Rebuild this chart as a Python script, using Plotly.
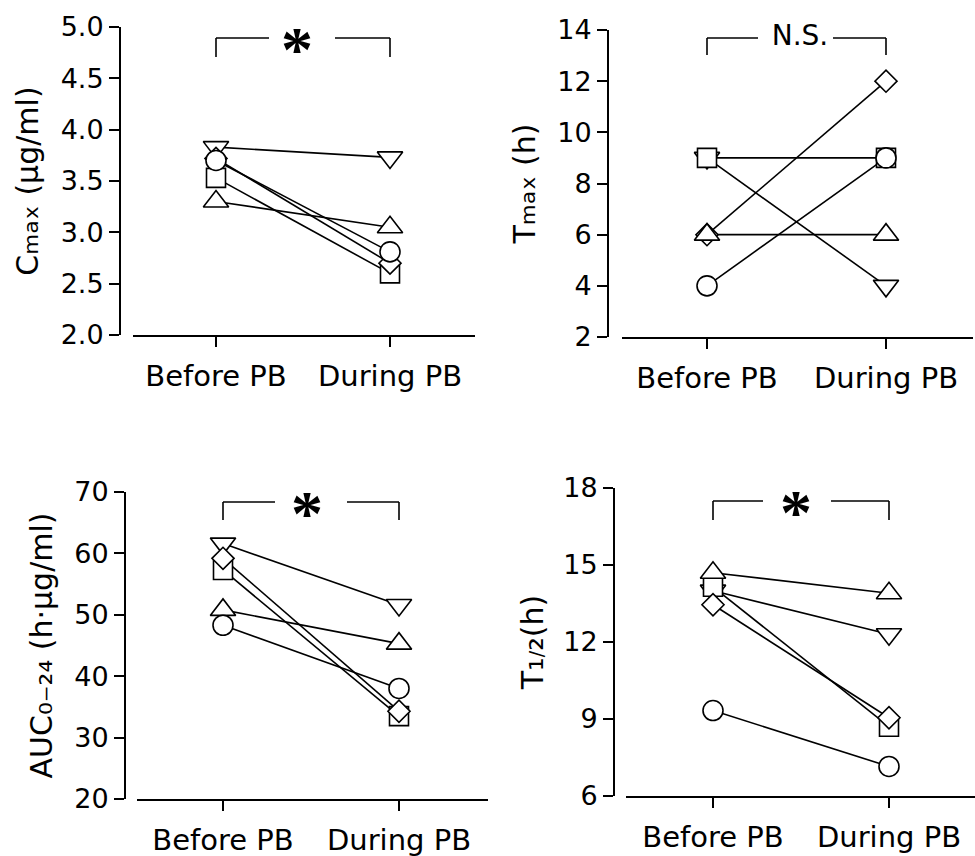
import plotly.graph_objects as go

W, H = 975, 856

# Two study periods on the x axis
conditions = ["Before PB", "During PB"]

# One open symbol per subject (drawing order: later symbols sit on top)
subjects = ["triangle-down", "square", "diamond", "triangle-up", "circle"]

# Pharmacokinetic parameters per subject, same order as `subjects`
cmax_before = [3.83, 3.53, 3.72, 3.30, 3.70]
cmax_during = [3.73, 2.60, 2.70, 3.05, 2.81]

tmax_before = [9, 9, 6, 6, 4]
tmax_during = [4, 9, 12, 6, 9]

auc_before = [61.6, 57.3, 59.2, 50.8, 48.3]
auc_during = [51.6, 33.5, 34.3, 45.3, 38.0]

thalf_before = [14.0, 14.15, 13.45, 14.7, 9.33]
thalf_during = [12.3, 8.7, 9.05, 13.9, 7.15]


def sub(s, size=34):
    """Unicode subscript run, slightly enlarged so it reads like a typeset subscript."""
    return f"<span style='font-size:{size}px'>{s}</span>"


# Axis titles and significance labels per panel
y_titles = ["C" + sub("ₘₐₓ") + " (µg/ml)",
            "T" + sub("ₘₐₓ") + " (h)",
            "AUC" + sub("₀₋₂₄", 32) + " (h·µg/ml)",
            "T" + sub("₁") + sub("/", 19) + sub("₂") + "(h)"]
sig_labels = ["*", "N.S.", "*", "*"]

FONT = "DejaVu Sans"
marker_size = {"triangle-down": 22, "triangle-up": 22, "square": 19,
               "diamond": 17, "circle": 20}


def px_x(p):
    return p / W


def px_y(p):
    return 1 - p / H


# Panel geometry in pixels: y-axis x position, x-line start/end, y top/bottom,
# pixel x of the two category ticks
panels = [
    dict(before=cmax_before, during=cmax_during, yrange=[2, 5], dtick=0.5, fmt=".1f",
         yx=120, x0=133, x1=475, ytop=27, ybot=335, t0=216, t1=390, standoff=12,
         br_y=38, br_leg=57, gapl=269, gapr=335, lab_x=297, lab_y=41),
    dict(before=tmax_before, during=tmax_during, yrange=[2, 14], dtick=2, fmt="d",
         yx=608, x0=622, x1=973, ytop=30, ybot=337, t0=707, t1=886, standoff=12,
         br_y=38, br_leg=55, gapl=758, gapr=833, lab_x=800, lab_y=38),
    dict(before=auc_before, during=auc_during, yrange=[20, 70], dtick=10, fmt="d",
         yx=125, x0=137, x1=488, ytop=492, ybot=799, t0=223, t1=399, standoff=12,
         br_y=502, br_leg=520, gapl=275, gapr=347, lab_x=307, lab_y=505),
    dict(before=thalf_before, during=thalf_during, yrange=[6, 18], dtick=3, fmt="d",
         yx=614, x0=626, x1=975, ytop=488, ybot=796, t0=713, t1=889, standoff=10,
         br_y=501, br_leg=520, gapl=763, gapr=831, lab_x=796, lab_y=504),
]

fig = go.Figure()
shapes = []
xpos = list(range(len(conditions)))

for i, p in enumerate(panels, start=1):
    xa = "x" if i == 1 else f"x{i}"
    ya = "y" if i == 1 else f"y{i}"
    unit = p["t1"] - p["t0"]
    xr = [(p["x0"] - p["t0"]) / unit, (p["x1"] - p["t0"]) / unit]
    y0, y1 = p["yrange"]

    def to_data_y(py, p=p, y0=y0, y1=y1):
        return y0 + (p["ybot"] - py) / (p["ybot"] - p["ytop"]) * (y1 - y0)

    # connecting lines first so the open markers cover them
    for k, sym in enumerate(subjects):
        fig.add_trace(go.Scatter(
            x=xpos, y=[p["before"][k], p["during"][k]], mode="lines",
            line=dict(color="black", width=1.6), xaxis=xa, yaxis=ya,
            showlegend=False, hoverinfo="skip"))
    for k, sym in enumerate(subjects):
        fig.add_trace(go.Scatter(
            x=xpos, y=[p["before"][k], p["during"][k]], mode="markers",
            marker=dict(symbol=sym, size=marker_size[sym], color="white",
                        line=dict(color="black", width=1.6)),
            xaxis=xa, yaxis=ya, showlegend=False, cliponaxis=False))

    xkey = "xaxis" if i == 1 else f"xaxis{i}"
    ykey = "yaxis" if i == 1 else f"yaxis{i}"
    fig.update_layout({
        xkey: dict(domain=[px_x(p["x0"]), px_x(p["x1"])], range=xr, anchor=ya,
                   tickvals=xpos, ticktext=conditions, showline=True,
                   linecolor="black", linewidth=2, ticks="outside", ticklen=10,
                   tickwidth=2, tickcolor="black", showgrid=False, zeroline=False,
                   automargin=False, ticklabelstandoff=4,
                   tickfont=dict(family=FONT, size=29, color="black")),
        ykey: dict(domain=[px_y(p["ybot"]), px_y(p["ytop"])], range=p["yrange"],
                   anchor="free", position=px_x(p["yx"]), dtick=p["dtick"],
                   tick0=y0, tickformat=p["fmt"], showline=True,
                   linecolor="black", linewidth=2, ticks="outside", ticklen=10,
                   tickwidth=2, tickcolor="black", showgrid=False, zeroline=False,
                   automargin=False,
                   tickfont=dict(family=FONT, size=27, color="black"),
                   title=dict(text=y_titles[i - 1], standoff=p["standoff"],
                              font=dict(family=FONT, size=30, color="black"))),
    })

    # significance bracket
    gl = (p["gapl"] - p["t0"]) / unit
    gr = (p["gapr"] - p["t0"]) / unit
    by, bl = px_y(p["br_y"]), px_y(p["br_leg"])
    seg = dict(type="line", xref=xa, yref="paper",
               line=dict(color="black", width=1.6))
    shapes += [
        dict(seg, x0=0, x1=0, y0=bl, y1=by),
        dict(seg, x0=0, x1=gl, y0=by, y1=by),
        dict(seg, x0=gr, x1=1, y0=by, y1=by),
        dict(seg, x0=1, x1=1, y0=by, y1=bl),
    ]
    lab = sig_labels[i - 1]
    if lab == "*":
        tfont = dict(family="Liberation Serif", size=64, color="black", weight="bold")
        ly = p["lab_y"] + 14
    else:
        tfont = dict(family=FONT, size=28, color="black")
        ly = p["lab_y"]
    fig.add_trace(go.Scatter(
        x=[(p["lab_x"] - p["t0"]) / unit], y=[to_data_y(ly)], mode="text",
        text=[lab], textposition="middle center", textfont=tfont,
        xaxis=xa, yaxis=ya, showlegend=False, hoverinfo="skip", cliponaxis=False))

fig.update_layout(
    width=W, height=H, margin=dict(l=0, r=0, t=0, b=0, autoexpand=False),
    paper_bgcolor="white", plot_bgcolor="white",
    shapes=shapes, showlegend=False,
)

fig.write_html("out.html")
